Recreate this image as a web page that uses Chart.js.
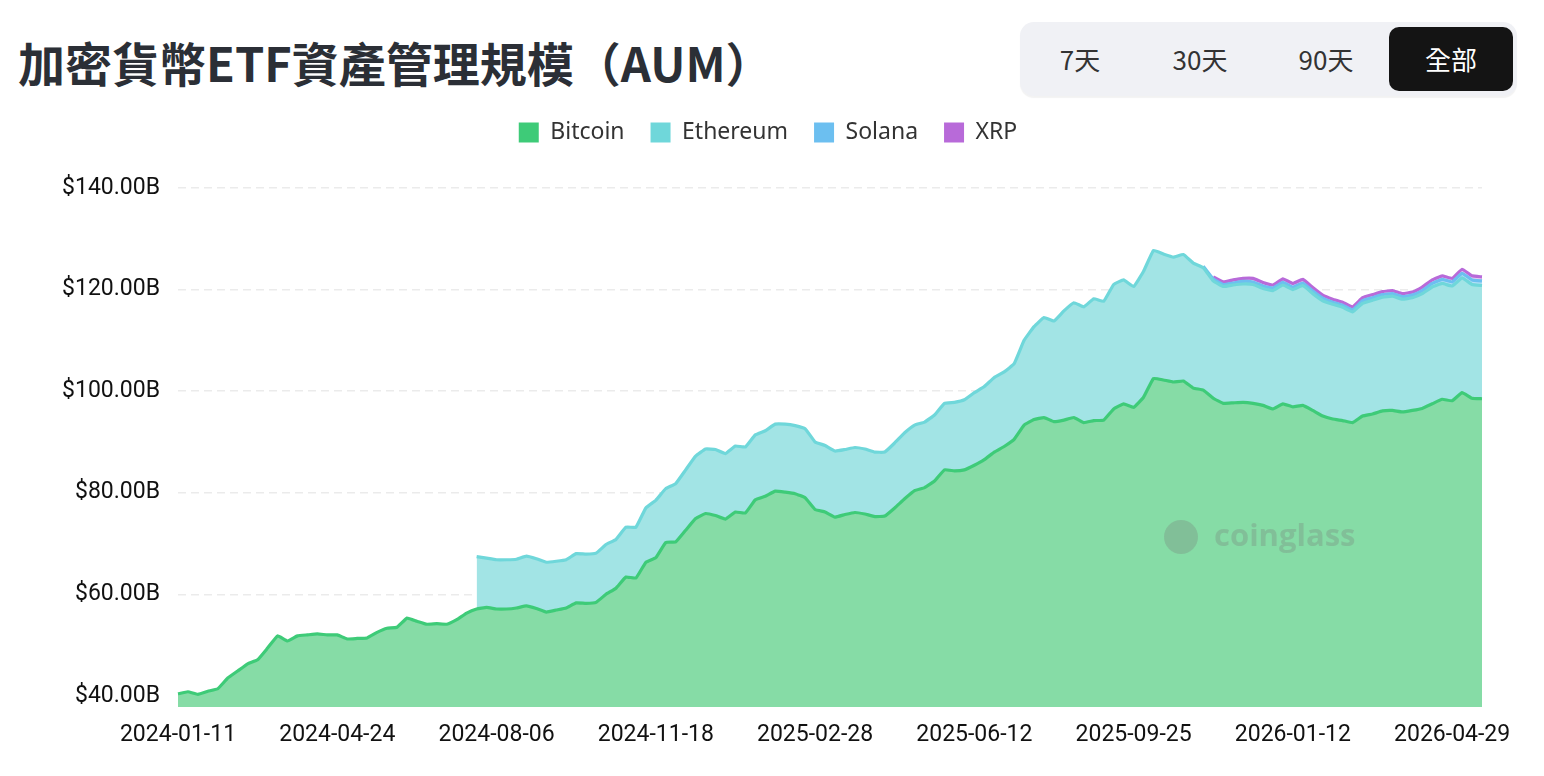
<!DOCTYPE html>
<html>
<head>
<meta charset="utf-8">
<script src="https://cdn.jsdelivr.net/npm/chart.js@4.4.1/dist/chart.umd.min.js"></script>
<style>
  body { margin: 0; width: 1544px; height: 776px; background: #fff; overflow: hidden; position: relative; }
  #title {
    position: absolute; left: 18px; top: 27px; margin: 0;
    font-family: "Noto Sans CJK TC", "Noto Sans", sans-serif;
    font-size: 47px; font-weight: 700; color: #2b2f36;
  }
  #tabs {
    position: absolute; left: 1020px; top: 22px; width: 497px; height: 74px;
    background: #f0f1f5; border-radius: 14px; box-shadow: 0 2px 1px rgba(0,0,0,0.05);
    font-family: "Noto Sans CJK TC", "Noto Sans", sans-serif; font-size: 26px; color: #333;
  }
  #tabs span { position: absolute; top: 0; height: 74px; line-height: 74px; transform: translateX(-50%); white-space: nowrap; }
  #tabs .active {
    left: 369px; top: 5px; width: 124px; height: 64px; line-height: 64px;
    background: #141414; color: #fff; border-radius: 10px; transform: none; text-align: center;
  }
  #wrap { position: absolute; left: 0; top: 105px; width: 1544px; height: 671px; }
</style>
</head>
<body>
<h1 id="title">加密貨幣ETF資產管理規模（AUM）</h1>
<div id="tabs">
  <span style="left:60px">7天</span>
  <span style="left:180px">30天</span>
  <span style="left:306px">90天</span>
  <span class="active">全部</span>
</div>
<div id="wrap"><canvas id="aumChart"></canvas></div>
<script>
// ==== tick labels (x: one every 16 points) ====
const tickLabels = ['2024-01-11', '2024-04-24', '2024-08-06', '2024-11-18', '2025-02-28',
                    '2025-06-12', '2025-09-25', '2026-01-12', '2026-04-29'];
const pointsPerTick = 16;
const yTicks = [40, 60, 80, 100, 120, 140];

// ==== AUM, billions USD ====
const bitcoin = [
  40.4, 40.8, 40.3, 40.9, 41.4, 43.5, 44.9, 46.3, 47.1, 49.4, 51.8, 50.8, 51.8, 52.0, 52.2, 52.0,
  52.0, 51.2, 51.3, 51.4, 52.5, 53.3, 53.5, 55.3, 54.7, 54.1, 54.2, 54.1, 55.0, 56.3, 57.1, 57.4,
  57.1, 57.1, 57.3, 57.7, 57.2, 56.5, 56.9, 57.3, 58.3, 58.2, 58.4, 60.0, 61.2, 63.4, 63.2, 66.3,
  67.2, 70.2, 70.3, 72.6, 74.9, 75.9, 75.5, 74.8, 76.2, 76.0, 78.6, 79.3, 80.3, 80.1, 79.8, 79.0,
  76.7, 76.2, 75.2, 75.7, 76.1, 75.8, 75.3, 75.4, 77.0, 78.8, 80.4, 81.0, 82.3, 84.5, 84.3, 84.5,
  85.4, 86.5, 88.0, 89.1, 90.5, 93.3, 94.4, 94.8, 94.0, 94.3, 94.8, 93.8, 94.2, 94.3, 96.5, 97.5,
  96.8, 98.8, 102.5, 102.2, 101.8, 102.0, 100.6, 100.2, 98.6, 97.6, 97.7, 97.8, 97.6, 97.2, 96.5, 97.5,
  96.9, 97.2, 96.2, 95.1, 94.5, 94.2, 93.8, 95.1, 95.5, 96.1, 96.2, 95.9, 96.2, 96.6, 97.5, 98.4,
  98.1, 99.7, 98.6, 98.5
];
const ethStart = 30;
const ethereumValues = [
  10.3, 9.7, 9.7, 9.7, 9.6, 9.8, 9.8, 9.8, 9.6, 9.5, 9.7, 9.7, 9.7, 9.8, 9.6, 9.8, 10.0, 10.7,
  11.3, 10.6, 11.5, 11.9, 12.3, 12.7, 13.0, 12.9, 13.0, 13.0, 12.8, 12.9, 13.2, 13.4, 13.4, 13.6,
  13.3, 13.1, 13.0, 12.8, 12.8, 12.8, 12.7, 12.6, 12.8, 13.0, 12.9, 12.9, 13.0, 13.1, 13.5, 13.8,
  14.3, 14.4, 14.7, 14.7, 14.9, 16.7, 18.3, 19.7, 19.8, 21.5, 22.6, 22.8, 24.0, 23.4, 24.5, 24.4,
  23.8, 24.8, 25.2, 24.8, 24.6, 24.9, 24.6, 24.1, 23.1, 23.0, 23.2, 23.3, 23.4, 23.0, 23.3, 23.4,
  23.1, 23.6, 23.0, 22.7, 22.6, 22.3, 21.8, 22.2, 22.4, 22.4, 22.5, 22.2, 22.2, 22.6, 23.0, 22.8,
  22.6, 22.6, 22.4, 22.3
];
const solStart = 103;
const solanaValues = [
  0.3, 0.4, 0.4, 0.4, 0.5, 0.5, 0.5, 0.5, 0.5, 0.5, 0.5, 0.5, 0.5, 0.4, 0.4, 0.4,
  0.5, 0.5, 0.5, 0.5, 0.5, 0.5, 0.6, 0.7, 0.8, 0.8, 0.9, 0.9, 0.9
];
const xrpStart = 104;
const xrpValues = [
  0.4, 0.5, 0.6, 0.6, 0.7, 0.7, 0.6, 0.7, 0.7, 0.7, 0.7, 0.6, 0.6, 0.6, 0.6, 0.6,
  0.6, 0.6, 0.6, 0.6, 0.6, 0.7, 0.7, 0.7, 0.7, 0.8, 0.8, 0.8
];

// ==== build category labels & padded series ====
const labels = bitcoin.map((v, i) => (i % pointsPerTick === 0 && tickLabels[i / pointsPerTick]) || '');
const pad = (start, vals) => Array(start).fill(null).concat(vals);

const colors = {
  btc: '#3ecb78', btcFill: '#86dca6',
  eth: '#6fd7da', ethFill: '#a2e4e5',
  sol: '#6cbff0', solFill: 'rgba(108,191,240,0.5)',
  xrp: '#b86ad9', xrpFill: 'rgba(184,106,217,0.35)'
};

// extra space under the legend, and centre it on the whole canvas
const legendSpacer = {
  id: 'legendSpacer',
  beforeInit(chart) {
    const fit = chart.legend.fit;
    chart.legend.fit = function () {
      fit.bind(chart.legend)();
      this.height += 34;
    };
  },
  afterLayout(chart) {
    const shift = chart.options.layout.padding.right / 2 - 4;
    chart.legend.left += shift;
    chart.legend.right += shift;
  }
};

// faded watermark
const watermark = {
  id: 'watermark',
  afterDatasetsDraw(chart) {
    const c = chart.ctx;
    c.save();
    c.fillStyle = 'rgba(120,120,120,0.28)';
    c.beginPath();
    c.arc(1181, 432, 17, 0, Math.PI * 2);
    c.fill();
    c.font = 'bold 31px "Open Sans", sans-serif';
    c.textBaseline = 'middle';
    c.fillText('coinglass', 1214, 432);
    c.restore();
  }
};

const tickFont = { family: 'Roboto, sans-serif', size: 23 };

const ctx = document.getElementById('aumChart').getContext('2d');
const aumChart = new Chart(ctx, {
  type: 'line',
  data: {
    labels: labels,
    datasets: [
      { label: 'Bitcoin', data: bitcoin, borderColor: colors.btc, backgroundColor: colors.btcFill, fill: 'start' },
      { label: 'Ethereum', data: pad(ethStart, ethereumValues), borderColor: colors.eth, backgroundColor: colors.ethFill, fill: '-1' },
      { label: 'Solana', data: pad(solStart, solanaValues), borderColor: colors.sol, backgroundColor: colors.solFill, fill: '-1' },
      { label: 'XRP', data: pad(xrpStart, xrpValues), borderColor: colors.xrp, backgroundColor: colors.xrpFill, fill: '-1' }
    ]
  },
  options: {
    responsive: true,
    maintainAspectRatio: false,
    animation: false,
    layout: { padding: { top: -10, right: 62, bottom: 0, left: 0 } },
    elements: {
      line: { borderWidth: 3.2, tension: 0.1 },
      point: { radius: 0, hoverRadius: 0 }
    },
    interaction: { mode: 'index', intersect: false },
    plugins: {
      tooltip: { enabled: false },
      legend: {
        position: 'top',
        labels: {
          boxWidth: 20, boxHeight: 20, padding: 26, color: '#333',
          font: { family: '"Noto Sans", sans-serif', size: 23 },
          generateLabels(chart) {
            return Chart.defaults.plugins.legend.labels.generateLabels(chart).map(l => {
              l.fillStyle = l.strokeStyle;
              l.lineWidth = 0;
              return l;
            });
          }
        }
      }
    },
    scales: {
      x: {
        grid: { display: false },
        border: { display: false },
        afterFit(scale) { scale.height = 69; },
        ticks: {
          autoSkip: false, maxRotation: 0, padding: 6, color: '#111',
          font: tickFont,
          callback(value) { return this.getLabelForValue(value); }
        }
      },
      y: {
        stacked: true,
        min: 37.8,
        max: 140,
        afterFit(scale) { scale.width = 178; },
        afterBuildTicks(scale) { scale.ticks = yTicks.map(v => ({ value: v })); },
        border: { display: false, dash: [8, 5] },
        grid: { color: '#ebebeb', lineWidth: 1.5, drawTicks: false },
        ticks: {
          padding: 18, color: '#111',
          font: tickFont,
          callback(value) { return '$' + value.toFixed(2) + 'B'; }
        }
      }
    }
  },
  plugins: [legendSpacer, watermark]
});
</script>
</body>
</html>
